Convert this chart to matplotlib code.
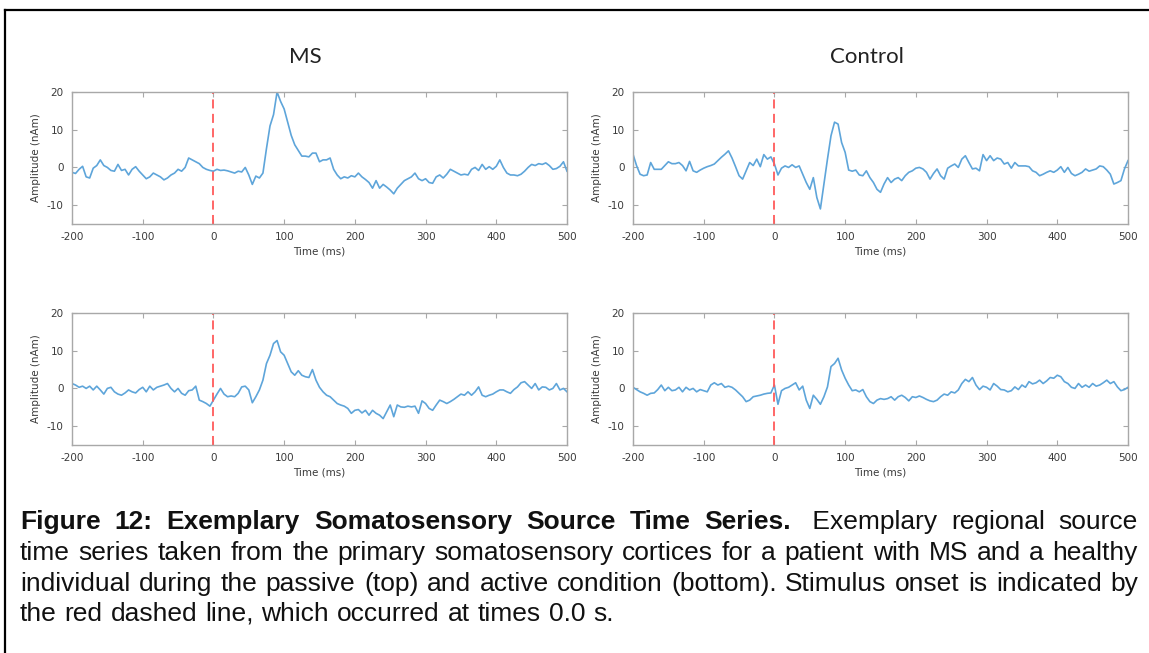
import numpy as np
import matplotlib
matplotlib.use("Agg")
import matplotlib.pyplot as plt
from matplotlib.lines import Line2D

plt.rcParams["axes.unicode_minus"] = False

# source time series (nAm), sampled every 5 ms from -200 to 500 ms
ms_passive = [
    -1.3, -1.6, -0.5, 0.3, -2.5, -2.8, -0.2, 0.5, 2.0, 0.5,
    0.0, -0.8, -1.0, 0.8, -0.8, -0.5, -2.0, -0.5, 0.2, -1.0,
    -2.0, -3.0, -2.5, -1.5, -2.0, -2.5, -3.3, -2.8, -2.0, -1.5,
    -0.5, -1.0, 0.0, 2.5, 2.0, 1.5, 1.0, 0.0, -0.5, -0.8,
    -1.0, -0.5, -0.8, -0.7, -0.9, -1.2, -1.5, -1.0, -1.2, 0.0,
    -2.0, -4.5, -2.3, -2.8, -1.5, 5.0, 11.0, 14.0, 20.0, 17.5,
    15.5, 12.0, 8.5, 6.0, 4.5, 3.0, 3.0, 2.8, 3.8, 3.8,
    1.5, 2.0, 2.0, 2.5, -0.5, -2.0, -3.0, -2.5, -2.8, -2.2,
    -2.5, -1.5, -2.5, -3.2, -4.0, -5.5, -3.5, -5.5, -4.5, -5.2,
    -6.0, -7.0, -5.5, -4.5, -3.5, -3.0, -2.5, -1.5, -3.0, -3.5,
    -3.0, -4.0, -4.2, -2.5, -2.0, -2.8, -1.8, -0.5, -1.0, -1.5,
    -2.0, -1.8, -2.0, -0.5, 0.0, -0.8, 0.8, -0.5, 0.2, -0.5,
    0.3, 2.0, 0.0, -1.5, -2.0, -2.0, -2.2, -1.8, -1.0, 0.0,
    0.8, 0.5, 1.0, 0.8, 1.2, 0.5, -0.5, -0.3, 0.3, 1.5,
    -1.0,
]
control_passive = [
    3.5, 0.5, -1.8, -2.2, -2.0, 1.3, -0.5, -0.5, -0.5, 0.5,
    1.5, 1.0, 1.0, 1.3, 0.5, -0.9, 1.6, -0.9, -1.3, -0.7,
    -0.2, 0.2, 0.5, 0.9, 1.8, 2.7, 3.5, 4.4, 2.5, 0.2,
    -2.2, -3.1, -0.9, 1.3, 0.5, 2.2, 0.2, 3.4, 2.2, 2.8,
    0.9, -2.0, -0.2, 0.4, 0.0, 0.7, 0.0, 0.4, -1.8, -4.0,
    -5.8, -2.7, -8.0, -11.0, -4.4, 2.2, 8.4, 12.0, 11.5, 6.6,
    4.0, -0.7, -1.0, -0.7, -2.0, -2.2, -0.9, -2.7, -4.0, -5.8,
    -6.6, -4.4, -2.7, -4.0, -3.1, -2.7, -3.5, -2.2, -1.3, -0.9,
    -0.2, 0.0, -0.4, -1.3, -3.1, -1.6, -0.4, -2.2, -3.1, -0.2,
    0.4, 0.9, 0.0, 2.2, 3.1, 1.3, -0.4, -0.2, -0.9, 3.4,
    1.8, 3.1, 1.8, 2.5, 2.2, 0.9, 1.3, -0.2, 1.3, 0.4,
    0.4, 0.4, 0.2, -0.9, -1.3, -2.2, -1.8, -1.3, -0.9, -1.3,
    -0.7, 0.2, -1.3, 0.0, -1.6, -2.2, -1.8, -1.3, -0.4, -1.0,
    -0.7, -0.4, 0.4, 0.2, -0.7, -1.8, -4.4, -4.0, -3.5, -0.4,
    1.8,
]
ms_active = [
    1.3, 0.9, 0.3, 0.6, 0.0, 0.6, -0.4, 0.6, -0.4, -1.5,
    0.0, 0.3, -0.9, -1.5, -1.8, -1.2, -0.4, -0.9, -1.2, -0.3,
    0.3, -0.9, 0.6, -0.4, 0.3, 0.6, 0.9, 1.3, 0.0, -0.9,
    0.0, -1.3, -1.8, -0.6, -0.4, 0.6, -3.1, -3.5, -4.0, -4.7,
    -3.1, -1.5, 0.0, -1.5, -2.2, -2.0, -2.2, -1.3, 0.4, 0.6,
    -0.4, -3.8, -2.2, -0.4, 2.2, 6.6, 8.8, 11.9, 12.7, 9.7,
    8.8, 6.6, 4.4, 3.5, 4.7, 3.5, 3.1, 2.9, 5.0, 2.2,
    0.3, -0.9, -1.8, -2.2, -3.1, -4.0, -4.4, -4.7, -5.3, -6.6,
    -5.8, -5.6, -6.5, -5.8, -7.1, -5.8, -6.6, -7.1, -8.0, -6.2,
    -4.4, -7.5, -4.4, -4.9, -5.0, -4.7, -4.9, -4.7, -6.6, -3.3,
    -4.0, -5.3, -5.8, -4.4, -3.1, -3.5, -4.0, -3.5, -2.9, -2.2,
    -1.5, -1.8, -0.9, -1.8, -0.9, 0.4, -1.8, -2.2, -1.8, -1.5,
    -0.9, -0.4, -0.4, -0.9, -1.3, -0.3, 0.4, 1.5, 1.8, 0.9,
    0.0, 1.3, -0.4, 0.4, 0.3, -0.4, 0.0, 1.3, -0.4, 0.0,
    -0.9,
]
control_active = [
    0.3, -0.3, -0.9, -1.3, -1.8, -1.3, -1.2, -0.3, 0.9, -0.6,
    0.3, -0.6, -0.4, 0.3, -0.9, 0.3, -0.4, 0.0, -0.9, -0.3,
    -0.6, -0.9, 0.9, 1.5, 0.9, 1.3, 0.3, 0.6, 0.3, -0.4,
    -1.3, -2.2, -3.5, -3.1, -2.2, -2.0, -1.8, -1.5, -1.3, -1.2,
    0.9, -4.2, -0.6, 0.0, 0.3, 0.9, 1.5, -0.4, 0.6, -3.1,
    -5.3, -1.8, -2.9, -4.2, -2.2, 0.4, 5.8, 6.6, 8.0, 4.9,
    2.7, 0.9, -0.6, -0.4, -0.9, -0.3, -2.2, -3.5, -4.0, -3.1,
    -2.7, -2.9, -2.7, -2.2, -3.1, -2.2, -1.8, -2.4, -3.3, -2.2,
    -2.4, -2.0, -2.4, -2.9, -3.3, -3.5, -3.1, -2.2, -1.5, -1.8,
    -0.9, -1.2, -0.4, 1.3, 2.4, 1.8, 2.9, 0.9, -0.3, 0.6,
    0.3, -0.4, 1.3, 0.6, -0.3, -0.4, -0.9, -0.6, 0.4, -0.3,
    0.9, 0.3, 1.8, 1.2, 1.5, 2.2, 1.3, 2.0, 2.9, 2.7,
    3.5, 3.1, 1.8, 1.3, 0.3, 0.0, 1.3, 0.3, 0.9, 0.3,
    1.3, 0.6, 0.9, 1.5, 2.2, 1.3, 1.8, 0.4, -0.6, -0.3,
    0.3,
]

col_titles = ["MS", "Control"]
x_ticks = [-200, -100, 0, 100, 200, 300, 400, 500]
y_ticks = [-10, 0, 10, 20]
onset = 0

caption = [
    [("Figure", "bold"), ("12:", "bold"), ("Exemplary", "bold"), ("Somatosensory", "bold"),
     ("Source", "bold"), ("Time", "bold"), ("Series.", "bold"), (" Exemplary", "normal"),
     ("regional", "normal"), ("source", "normal")],
    "time series taken from the primary somatosensory cortices for a patient with MS and a healthy",
    "individual during the passive (top) and active condition (bottom). Stimulus onset is indicated by",
    "the red dashed line, which occurred at times 0.0 s.",
]

W, H = 1149, 653
fig = plt.figure(figsize=(W / 100, H / 100), dpi=100)

line_col = "#5ea5da"
frame_col = "#a8a8a8"
tick_col = "#3a3a3a"

panels = [[ms_passive, control_passive], [ms_active, control_active]]
lefts = [72, 633]
tops = [92, 313]
aw, ah = 495, 132

for r in range(2):
    for c in range(2):
        y = np.array(panels[r][c])
        t = -200 + 5 * np.arange(len(y))
        ax = fig.add_axes([lefts[c] / W, 1 - (tops[r] + ah) / H, aw / W, ah / H])
        ax.plot(t, y, color=line_col, lw=1.2)
        ax.axvline(onset, color="#ff5a5a", lw=1.3, ls=(0, (5, 3)))
        ax.set_xlim(-200, 500)
        ax.set_ylim(-15, 20)
        ax.set_xticks(x_ticks)
        ax.set_yticks(y_ticks)
        ax.tick_params(direction="in", length=3.5, width=0.8, color=frame_col,
                       labelsize=7.5, labelcolor=tick_col, top=True, right=True, pad=6)
        for s in ax.spines.values():
            s.set_color(frame_col)
            s.set_linewidth(1.0)
        ax.set_xlabel("Time (ms)", fontsize=7.5, color=tick_col, labelpad=3)
        ax.set_ylabel("Amplitude (nAm)", fontsize=7.5, color=tick_col, labelpad=4)

for c, name in enumerate(col_titles):
    fig.text((lefts[c] + aw / 2 - 14) / W, 1 - 57 / H, name, ha="center", va="center",
             fontsize=16, family="Lato", color="#222222")

# outer frame (top and left only)
fig.add_artist(Line2D([5 / W, 1], [1 - 10 / H, 1 - 10 / H], color="black", lw=1.6,
                      transform=fig.transFigure))
fig.add_artist(Line2D([5 / W, 5 / W], [1 - 10 / H, 0], color="black", lw=1.6,
                      transform=fig.transFigure))

# justified caption
renderer = fig.canvas.get_renderer()
x0, x1 = 20, 1138
baselines = [529, 560, 591, 621]
fs = 19
for i, ln in enumerate(caption):
    words = ln if isinstance(ln, list) else [(w, "normal") for w in ln.split()]
    texts = []
    for w, wt in words:
        tx = fig.text(0, 1 - baselines[i] / H, w, fontsize=fs, fontweight=wt,
                      family="Liberation Sans", va="baseline", ha="left", color="#111111")
        texts.append(tx)
    widths = [tx.get_window_extent(renderer).width for tx in texts]
    if i < len(caption) - 1:
        gap = (x1 - x0 - sum(widths)) / (len(words) - 1)
    else:
        gap = 0.3 * fs * 100 / 72
    x = x0
    for tx, wd in zip(texts, widths):
        tx.set_x(x / W)
        x += wd + gap

fig.savefig("out.png", dpi=100)
